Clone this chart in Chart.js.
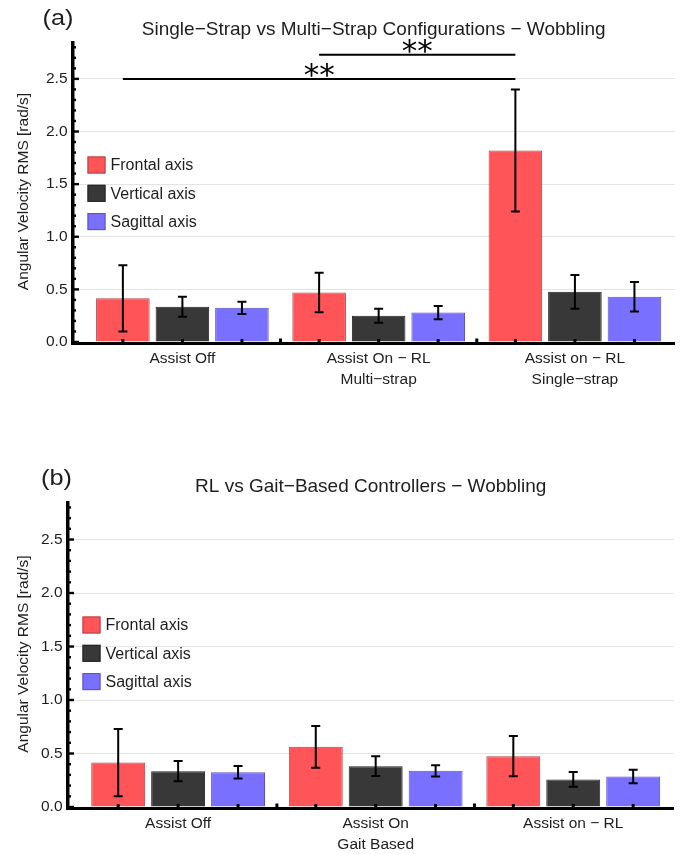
<!DOCTYPE html>
<html>
<head>
<meta charset="utf-8">
<script src="https://cdn.jsdelivr.net/npm/chart.js@4.4.1/dist/chart.umd.min.js"></script>
<style>
  html, body { margin: 0; padding: 0; background: #fff; }
  body { width: 691px; height: 854px; overflow: hidden; position: relative; }
  .panel { position: absolute; left: 0; width: 691px; height: 427px; }
</style>
</head>
<body>
<div class="panel" style="top:0"><canvas id="chartA" width="691" height="427"></canvas></div>
<div class="panel" style="top:427px"><canvas id="chartB" width="691" height="427"></canvas></div>
<script>
// ---- data -------------------------------------------------------------
const seriesNames = ['Frontal axis', 'Vertical axis', 'Sagittal axis'];

// (a) single-strap vs multi-strap
const categoriesA = [['Assist Off'], ['Assist On \u2212 RL', 'Multi\u2212strap'], ['Assist on \u2212 RL', 'Single\u2212strap']];
const frontalA      = [0.415, 0.470, 1.820];
const frontalErrA   = [0.315, 0.188, 0.580];
const verticalA     = [0.335, 0.250, 0.477];
const verticalErrA  = [0.095, 0.066, 0.160];
const sagittalA     = [0.325, 0.280, 0.430];
const sagittalErrA  = [0.058, 0.063, 0.140];
// significance brackets: [from category, to category, bracket level, text]
const bracketsA = [[0, 2, 2.50, '**'], [1, 2, 2.73, '**']];

// (b) RL vs gait-based controllers
const categoriesB = [['Assist Off'], ['Assist On', 'Gait Based'], ['Assist on \u2212 RL']];
const frontalB      = [0.415, 0.562, 0.475];
const frontalErrB   = [0.315, 0.195, 0.188];
const verticalB     = [0.335, 0.382, 0.258];
const verticalErrB  = [0.095, 0.093, 0.068];
const sagittalB     = [0.325, 0.338, 0.285];
const sagittalErrB  = [0.058, 0.052, 0.062];

const yTickValues = [0, 0.5, 1.0, 1.5, 2.0, 2.5];

// ---- styling -----------------------------------------------------------
const FONT = '"Liberation Sans", Arial, Helvetica, sans-serif';
const TEXT = '#1e1e1e';
const fills   = ['#ff5558', '#383838', '#7a70ff'];
const borders = ['#b04446', '#222222', '#5a52c0'];
const Y_MAX = 2.86;
const X_MIN = -0.56, X_MAX = 2.51;

// error bars drawn over every bar
const errorBars = {
  id: 'errorBars',
  afterDatasetsDraw(chart) {
    const { ctx } = chart;
    const y = chart.scales.y;
    ctx.save();
    ctx.strokeStyle = '#000';
    ctx.lineWidth = 2;
    chart.data.datasets.forEach((ds, di) => {
      const meta = chart.getDatasetMeta(di);
      meta.data.forEach((bar, i) => {
        const v = ds.data[i].y, e = ds.errors[i];
        const top = y.getPixelForValue(v + e), bot = y.getPixelForValue(v - e);
        const cap = 4.5;
        ctx.beginPath();
        ctx.moveTo(bar.x, top); ctx.lineTo(bar.x, bot);
        ctx.moveTo(bar.x - cap, top); ctx.lineTo(bar.x + cap, top);
        ctx.moveTo(bar.x - cap, bot); ctx.lineTo(bar.x + cap, bot);
        ctx.stroke();
      });
    });
    ctx.restore();
  }
};

// heavy frame lines, minor/major ticks and x tick marks
const frame = {
  id: 'frame',
  afterDatasetsDraw(chart) {
    const { ctx, chartArea: a } = chart;
    const y = chart.scales.y, x = chart.scales.x;
    ctx.save();
    ctx.fillStyle = '#000';
    // y axis
    ctx.fillRect(a.left - 1.5, a.top, 3.5, a.bottom - a.top + 3);
    // x axis
    ctx.fillRect(a.left - 1.5, a.bottom, a.right - a.left + 1.5, 3);
    // y ticks every 0.1, longer every 0.5
    for (let k = 0; k <= Math.floor(Y_MAX * 10 + 1e-6); k++) {
      const py = y.getPixelForValue(k / 10);
      const major = k % 5 === 0;
      ctx.fillRect(a.left, py - 1.2, major ? 6.5 : 3.5, 2.4);
    }
    // x tick marks: bar centres and category boundaries
    chart.data.datasets.forEach((ds, di) => {
      chart.getDatasetMeta(di).data.forEach(bar => {
        ctx.fillRect(bar.x - 1.5, a.bottom - 3, 3, 3);
      });
    });
    const n = chart.data.datasets[0].data.length;
    for (let i = 0; i < n - 1; i++) {
      const px = x.getPixelForValue(i + 0.5);
      ctx.fillRect(px - 1.5, a.bottom - 3.5, 3, 3.5);
    }
    ctx.restore();
  }
};

// legend with square swatches inside the plot area
const boxLegend = {
  id: 'boxLegend',
  afterDatasetsDraw(chart) {
    const { ctx, chartArea: a } = chart;
    ctx.save();
    ctx.font = '16px ' + FONT;
    ctx.textBaseline = 'middle';
    chart.data.datasets.forEach((ds, i) => {
      const cy = a.top + 124 + i * 28.3;
      const bx = a.left + 15;
      ctx.fillStyle = ds.backgroundColor;
      ctx.fillRect(bx, cy - 8.5, 18, 17);
      ctx.strokeStyle = ds.borderColor;
      ctx.lineWidth = 1;
      ctx.strokeRect(bx + 0.5, cy - 8, 17, 16);
      ctx.fillStyle = TEXT;
      ctx.fillText(ds.label, bx + 23, cy + 1);
    });
    ctx.restore();
  }
};

// significance brackets between frontal bars
const brackets = {
  id: 'brackets',
  afterDatasetsDraw(chart) {
    const list = chart.options.plugins.brackets.items || [];
    const { ctx } = chart;
    const y = chart.scales.y;
    const meta = chart.getDatasetMeta(0);
    ctx.save();
    ctx.strokeStyle = '#000';
    ctx.fillStyle = '#000';
    ctx.lineWidth = 2;
    ctx.font = '31px "DejaVu Sans", sans-serif';
    ctx.textAlign = 'center';
    ctx.textBaseline = 'alphabetic';
    list.forEach(([from, to, level, text]) => {
      const x1 = meta.data[from].x, x2 = meta.data[to].x;
      const py = y.getPixelForValue(level);
      ctx.beginPath();
      ctx.moveTo(x1, py); ctx.lineTo(x2, py);
      ctx.stroke();
      const m = ctx.measureText(text);
      const h = m.actualBoundingBoxAscent + m.actualBoundingBoxDescent;
      const cy = py - 8.5;
      ctx.fillText(text, (x1 + x2) / 2, cy + h / 2 - m.actualBoundingBoxDescent);
    });
    ctx.restore();
  }
};

// panel letter to the upper left (set slightly wide)
const panelTag = {
  id: 'panelTag',
  afterDraw(chart) {
    const o = chart.options.plugins.panelTag;
    const { ctx } = chart;
    ctx.save();
    ctx.translate(o.x, o.y);
    ctx.scale(1.15, 1);
    ctx.font = '22px ' + FONT;
    ctx.fillStyle = TEXT;
    ctx.textAlign = 'center';
    ctx.textBaseline = 'middle';
    ctx.fillText(o.text, 0, 0);
    ctx.restore();
  }
};

function makePanel(id, opts) {
  const series = [
    [opts.frontal, opts.frontalErr],
    [opts.vertical, opts.verticalErr],
    [opts.sagittal, opts.sagittalErr]
  ];
  const datasets = series.map(([vals, errs], si) => ({
    label: seriesNames[si],
    data: vals.map((v, i) => ({ x: i, y: v })),
    errors: errs,
    backgroundColor: fills[si],
    borderColor: borders[si],
    borderWidth: 1,
    borderSkipped: 'bottom',
    categoryPercentage: 0.91,
    barPercentage: 0.9
  }));
  const cats = opts.categories;
  return new Chart(document.getElementById(id), {
    type: 'bar',
    data: { datasets },
    options: {
      responsive: false,
      animation: false,
      events: [],
      layout: { padding: { left: 0, right: opts.padRight, top: 0, bottom: 0 } },
      plugins: {
        legend: { display: false },
        tooltip: { enabled: false },
        title: {
          display: true,
          fullSize: false,
          text: opts.title,
          color: TEXT,
          font: { family: FONT, size: 19, weight: 'normal', lineHeight: 1.2 },
          padding: { top: opts.titleTop, bottom: opts.titleBottom }
        },
        brackets: { items: opts.brackets },
        panelTag: opts.tag
      },
      scales: {
        x: {
          type: 'linear',
          min: X_MIN, max: X_MAX,
          offset: false,
          grid: { display: false, drawTicks: false, offset: false },
          border: { display: false },
          afterBuildTicks: s => { s.ticks = cats.map((_, i) => ({ value: i })); },
          afterFit: s => { s.height = opts.xHeight; },
          ticks: {
            autoSkip: false, maxRotation: 0, padding: 7,
            color: TEXT,
            font: { family: FONT, size: 15.5, lineHeight: 1.3 },
            callback: v => cats[v]
          }
        },
        y: {
          min: 0, max: Y_MAX,
          afterBuildTicks: s => { s.ticks = yTickValues.map(v => ({ value: v })); },
          afterFit: s => { s.width = opts.yWidth; },
          grid: { color: '#e4e4e4', lineWidth: 1, drawTicks: false },
          border: { display: false },
          ticks: {
            padding: 5,
            color: TEXT,
            font: { family: FONT, size: 15.5 },
            callback: v => v.toFixed(1)
          },
          title: {
            display: true,
            text: 'Angular Velocity RMS [rad/s]',
            color: TEXT,
            font: { family: FONT, size: 15.5, lineHeight: 1.2 },
            padding: { top: 14, bottom: 0 }
          }
        }
      }
    },
    plugins: [errorBars, brackets, frame, boxLegend, panelTag]
  });
}

makePanel('chartA', {
  categories: categoriesA, title: 'Single\u2212Strap vs Multi\u2212Strap Configurations \u2212 Wobbling',
  frontal: frontalA, frontalErr: frontalErrA,
  vertical: verticalA, verticalErr: verticalErrA,
  sagittal: sagittalA, sagittalErr: sagittalErrA,
  brackets: bracketsA,
  tag: { text: '(a)', x: 58, y: 19 },
  titleTop: 18, titleBottom: 0.2,
  xHeight: 85, yWidth: 72.5, padRight: 16
});

makePanel('chartB', {
  categories: categoriesB, title: 'RL vs Gait\u2212Based Controllers \u2212 Wobbling',
  frontal: frontalB, frontalErr: frontalErrB,
  vertical: verticalB, verticalErr: verticalErrB,
  sagittal: sagittalB, sagittalErr: sagittalErrB,
  brackets: [],
  tag: { text: '(b)', x: 56.5, y: 52 },
  titleTop: 48.6, titleBottom: 2.6,
  xHeight: 47, yWidth: 67.5, padRight: 17
});
</script>
</body>
</html>
